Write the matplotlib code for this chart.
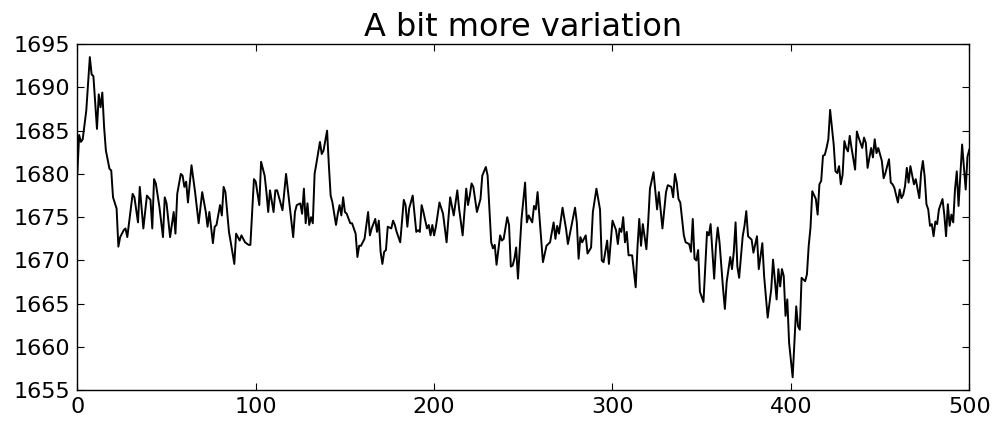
import matplotlib
matplotlib.use("Agg")
import matplotlib.pyplot as plt

x_vals = [0, 1, 2, 3, 5, 7, 8, 9, 11, 12, 13, 14, 15, 16, 18, 19, 20, 22, 23, 24,
          26, 27, 28, 31, 32, 34, 35, 37, 39, 41, 42, 43, 44, 46, 48, 49, 50, 52, 54, 55,
          56, 58, 59, 60, 61, 62, 64, 66, 68, 70, 72, 73, 74, 76, 77, 78, 80, 81, 82, 83,
          85, 86, 88, 89, 91, 92, 94, 96, 97, 99, 100, 102, 103, 105, 106, 107, 108, 110, 111, 112,
          115, 117, 119, 121, 122, 123, 125, 126, 127, 128, 129, 130, 131, 132, 133, 134, 136, 137, 138, 140,
          141, 142, 143, 145, 146, 147, 148, 149, 150, 151, 153, 154, 156, 157, 158, 159, 161, 163, 164, 165,
          167, 168, 169, 170, 171, 172, 173, 174, 176, 177, 178, 179, 181, 183, 184, 185, 186, 188, 190, 191,
          192, 193, 194, 196, 197, 198, 199, 200, 201, 203, 205, 206, 207, 208, 209, 211, 213, 214, 216, 217,
          218, 219, 220, 221, 222, 224, 226, 227, 229, 230, 232, 233, 234, 235, 237, 238, 239, 241, 242, 243,
          244, 245, 246, 247, 249, 251, 252, 253, 255, 256, 257, 258, 260, 261, 263, 264, 265, 267, 268, 269,
          270, 272, 274, 275, 277, 279, 280, 281, 282, 283, 285, 286, 288, 289, 291, 293, 294, 295, 297, 298,
          300, 302, 303, 304, 305, 306, 307, 308, 309, 311, 313, 314, 315, 316, 317, 319, 320, 321, 323, 325,
          326, 328, 330, 331, 333, 334, 335, 336, 337, 338, 340, 341, 343, 344, 345, 346, 347, 348, 349, 351,
          352, 353, 354, 355, 357, 358, 359, 360, 362, 363, 364, 366, 367, 368, 369, 370, 371, 373, 374, 375,
          376, 378, 379, 381, 382, 384, 385, 387, 389, 390, 392, 393, 394, 395, 396, 397, 398, 399, 401, 402,
          403, 404, 405, 406, 408, 409, 410, 411, 412, 414, 415, 416, 417, 418, 419, 420, 421, 422, 424, 425,
          426, 427, 428, 429, 430, 431, 432, 433, 434, 436, 437, 438, 440, 441, 442, 443, 445, 446, 447, 448,
          449, 451, 452, 453, 455, 456, 457, 458, 460, 461, 462, 463, 464, 465, 466, 467, 469, 470, 472, 473,
          474, 475, 476, 477, 478, 479, 480, 481, 482, 483, 485, 486, 487, 488, 489, 490, 491, 492, 493, 494,
          495, 496, 498, 499, 500]

y_vals = [1680.0, 1684.5, 1683.7, 1684.0, 1687.3, 1693.5, 1691.5, 1691.3, 1685.2, 1689.2, 1687.7, 1689.4, 1685.4, 1682.7, 1680.6, 1680.4, 1677.3, 1676.0, 1671.6, 1672.7,
          1673.5, 1673.7, 1672.7, 1677.7, 1677.3, 1674.4, 1678.5, 1673.7, 1677.5, 1677.0, 1673.7, 1679.4, 1678.9, 1676.2, 1672.7, 1677.3, 1676.6, 1672.7, 1675.6, 1673.1,
          1677.7, 1680.0, 1679.8, 1678.5, 1679.1, 1676.7, 1681.0, 1677.9, 1674.3, 1677.9, 1675.6, 1673.9, 1675.6, 1672.0, 1673.9, 1674.1, 1676.4, 1675.2, 1678.5, 1677.9,
          1673.3, 1672.1, 1669.6, 1673.1, 1672.3, 1672.9, 1672.1, 1671.8, 1671.8, 1679.4, 1679.1, 1676.4, 1681.4, 1679.8, 1677.9, 1675.6, 1678.1, 1675.6, 1678.1, 1678.1,
          1675.8, 1680.0, 1676.4, 1672.7, 1675.6, 1676.4, 1676.6, 1675.4, 1678.3, 1674.3, 1676.6, 1674.1, 1675.0, 1674.3, 1680.0, 1681.2, 1683.7, 1682.3, 1682.7, 1685.0,
          1681.0, 1677.5, 1676.7, 1674.1, 1675.4, 1676.4, 1675.2, 1677.3, 1675.6, 1675.4, 1674.3, 1674.3, 1673.1, 1670.4, 1671.7, 1671.7, 1672.5, 1675.6, 1672.9, 1673.7,
          1674.8, 1673.3, 1674.6, 1671.0, 1669.6, 1671.0, 1671.2, 1673.9, 1673.7, 1674.6, 1674.1, 1673.3, 1672.1, 1677.0, 1676.4, 1673.9, 1676.0, 1677.5, 1673.3, 1673.5,
          1673.3, 1676.4, 1675.6, 1673.7, 1674.1, 1672.9, 1674.1, 1672.9, 1673.9, 1676.7, 1675.4, 1673.7, 1672.1, 1674.8, 1677.3, 1675.2, 1678.1, 1676.0, 1672.9, 1675.6,
          1678.3, 1676.4, 1677.5, 1678.9, 1678.5, 1675.6, 1677.1, 1679.8, 1680.8, 1679.8, 1672.1, 1671.4, 1671.8, 1669.5, 1672.9, 1672.3, 1672.5, 1675.0, 1674.1, 1669.3,
          1669.4, 1670.2, 1671.5, 1667.9, 1674.8, 1679.0, 1674.4, 1675.2, 1674.4, 1676.3, 1675.9, 1677.9, 1672.5, 1669.8, 1671.7, 1671.9, 1672.1, 1674.4, 1672.5, 1674.0,
          1673.1, 1676.1, 1673.6, 1671.9, 1674.0, 1676.1, 1674.4, 1670.2, 1672.7, 1672.1, 1672.9, 1670.8, 1671.5, 1675.6, 1678.3, 1675.9, 1670.0, 1669.8, 1672.3, 1669.6,
          1674.6, 1673.5, 1671.9, 1673.7, 1673.3, 1675.0, 1672.1, 1673.3, 1670.6, 1670.6, 1666.9, 1671.5, 1674.8, 1671.7, 1674.2, 1671.3, 1674.4, 1678.3, 1680.2, 1675.9,
          1677.9, 1673.7, 1677.9, 1678.7, 1678.5, 1677.3, 1680.0, 1679.0, 1677.1, 1676.7, 1672.9, 1672.1, 1671.9, 1671.0, 1674.8, 1670.2, 1670.0, 1671.2, 1666.4, 1665.2,
          1669.2, 1673.3, 1672.9, 1674.2, 1667.9, 1671.7, 1673.8, 1672.1, 1666.7, 1664.4, 1667.5, 1670.4, 1669.0, 1671.0, 1674.4, 1669.3, 1668.0, 1672.8, 1674.0, 1675.7,
          1672.8, 1672.4, 1670.9, 1672.8, 1669.0, 1672.0, 1668.2, 1663.4, 1666.7, 1670.1, 1665.5, 1669.0, 1667.0, 1669.0, 1668.2, 1663.6, 1665.5, 1660.5, 1656.5, 1660.5,
          1664.7, 1662.4, 1662.0, 1668.0, 1667.6, 1668.4, 1671.7, 1673.8, 1678.0, 1677.1, 1675.3, 1678.8, 1679.2, 1682.1, 1682.2, 1683.0, 1684.0, 1687.4, 1683.4, 1680.3,
          1680.1, 1680.9, 1678.8, 1679.9, 1683.8, 1683.0, 1682.6, 1684.4, 1683.0, 1680.5, 1684.9, 1684.2, 1683.0, 1684.2, 1683.6, 1680.7, 1683.0, 1681.9, 1684.0, 1682.4,
          1683.0, 1681.5, 1679.5, 1680.1, 1681.7, 1679.0, 1678.8, 1678.4, 1676.7, 1678.2, 1677.2, 1677.6, 1678.6, 1680.7, 1679.0, 1680.9, 1678.8, 1679.4, 1677.2, 1680.1,
          1681.5, 1679.7, 1676.5, 1675.9, 1674.0, 1674.2, 1672.8, 1674.5, 1674.2, 1675.9, 1677.1, 1675.3, 1672.8, 1676.5, 1674.0, 1675.3, 1674.4, 1678.2, 1680.3, 1676.3,
          1679.9, 1683.4, 1678.2, 1682.0, 1682.8]

title = "A bit more variation"
x_ticks = [0, 100, 200, 300, 400, 500]
y_ticks = [1655, 1660, 1665, 1670, 1675, 1680, 1685, 1690, 1695]

fig = plt.figure(figsize=(9.98, 4.24), dpi=100, facecolor="white")
ax = fig.add_axes([0.0775, 0.0795, 0.8937, 0.8165])
ax.plot(x_vals, y_vals, color="black", linewidth=1.4)
ax.set_xlim(0, 500)
ax.set_ylim(1655, 1695)
ax.set_xticks(x_ticks)
ax.set_yticks(y_ticks)
ax.tick_params(direction="in", top=True, right=True, length=5, width=0.8, labelsize=16, pad=5)
ax.set_title(title, fontsize=23, pad=6)
for s in ax.spines.values():
    s.set_linewidth(1.0)
fig.savefig("out.png", dpi=100, facecolor="white")
